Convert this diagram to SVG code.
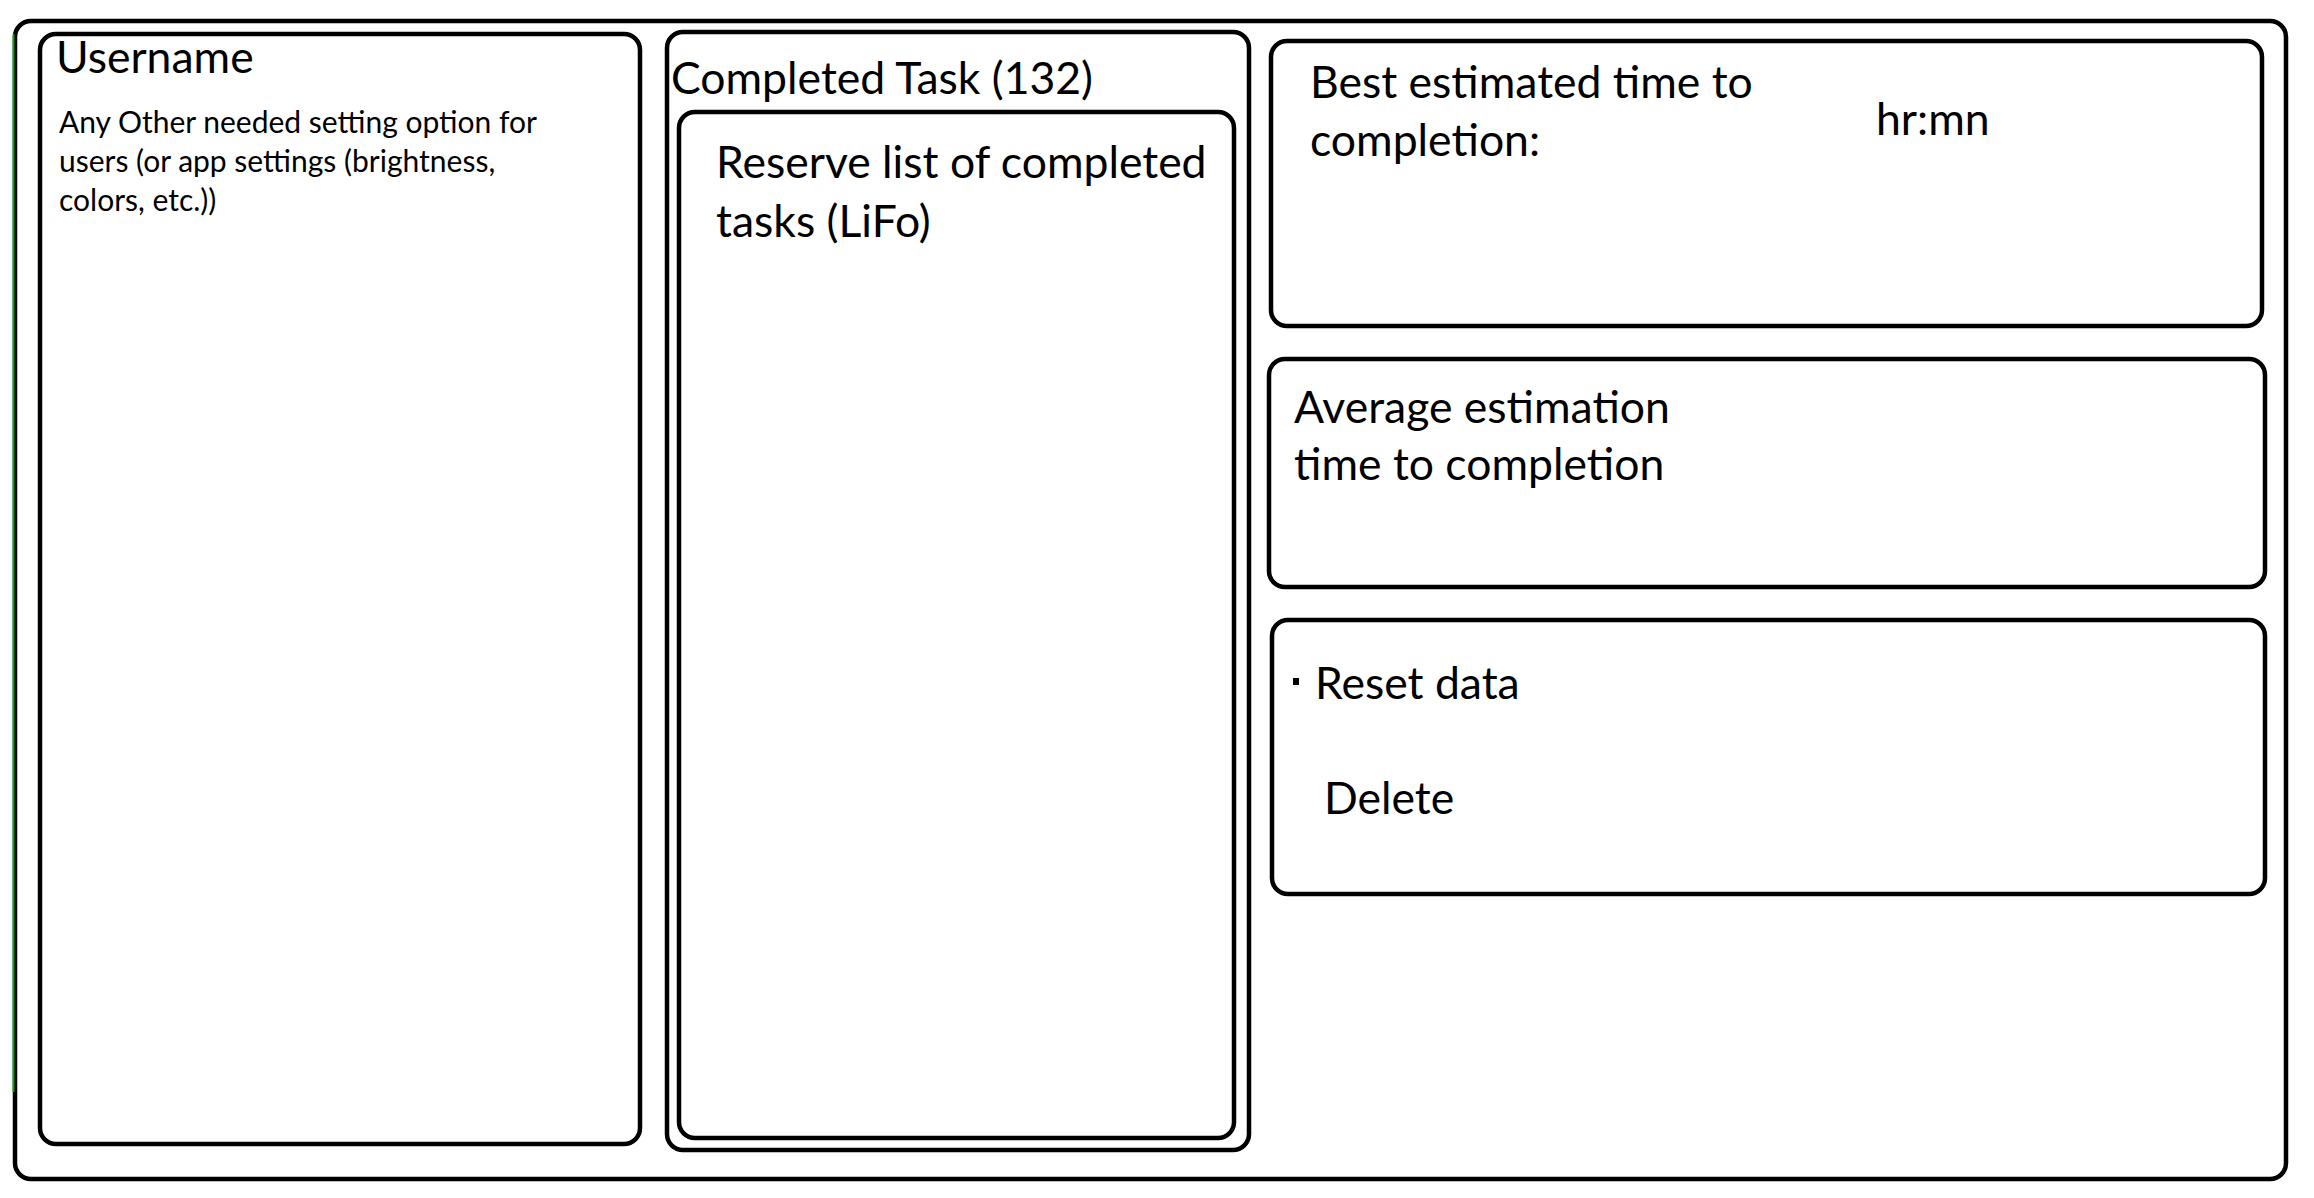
<svg xmlns="http://www.w3.org/2000/svg" width="2314" height="1198" viewBox="0 0 2314 1198">
<style>
.box{fill:none;stroke:#000;stroke-width:4.5}
.t{font-family:Lato,"Open Sans","Liberation Sans",sans-serif;fill:#000;font-size:44.5px}
.s{font-size:30px}
</style>
<rect width="2314" height="1198" fill="#fff"/>
<g id="frame">
<rect class="box" x="15" y="21" width="2271" height="1158" rx="16"/>
<line x1="13.5" y1="34" x2="13.5" y2="1092" stroke="#10a010" stroke-width="2"/>
</g>
<g id="username">
<rect class="box" x="40" y="34" width="600" height="1110" rx="16"/>
<text class="t" x="56" y="73">Username</text>
<text class="t s" x="59" y="133">Any Other needed setting option for</text>
<text class="t s" x="59" y="172">users (or app settings (brightness,</text>
<text class="t s" x="59" y="211">colors, etc.))</text>
</g>
<g id="completed">
<rect class="box" x="667" y="32" width="582" height="1118" rx="16"/>
<text class="t" x="671" y="94">Completed Task (132)</text>
</g>
<g id="reserve">
<rect class="box" x="679" y="112" width="555" height="1026" rx="16"/>
<text class="t" x="716" y="178" font-size="45">Reserve list of completed</text>
<text class="t" x="716" y="237" font-size="45">tasks (LiFo)</text>
</g>
<g id="best">
<rect class="box" x="1271" y="41" width="991" height="285" rx="16"/>
<text class="t" x="1310" y="98">Best estimated time to</text>
<text class="t" x="1310" y="156">completion:</text>
<text class="t" x="1876" y="135">hr:mn</text>
</g>
<g id="average">
<rect class="box" x="1269" y="359" width="996" height="228" rx="16"/>
<text class="t" x="1294" y="423">Average estimation</text>
<text class="t" x="1294" y="480">time to completion</text>
</g>
<g id="reset">
<rect class="box" x="1272" y="620" width="993" height="274" rx="16"/>
<rect x="1293" y="678" width="6" height="7"/>
<text class="t" x="1315" y="699">Reset data</text>
<text class="t" x="1324" y="814">Delete</text>
</g>
<g id="connectors"/>
</svg>
